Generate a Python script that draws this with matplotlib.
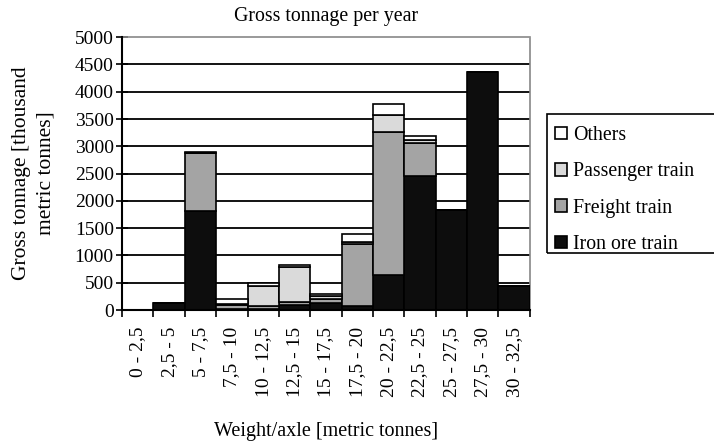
import matplotlib
matplotlib.use("Agg")
import matplotlib.pyplot as plt
from matplotlib.patches import Rectangle
import numpy as np

categories = ["0 - 2,5", "2,5 - 5", "5 - 7,5", "7,5 - 10", "10 - 12,5", "12,5 - 15",
              "15 - 17,5", "17,5 - 20", "20 - 22,5", "22,5 - 25", "25 - 27,5",
              "27,5 - 30", "30 - 32,5"]
iron_ore = [0, 130, 1820, 20, 20, 100, 130, 80, 650, 2460, 1830, 4370, 440]
freight = [0, 0, 1050, 80, 60, 40, 80, 1130, 2610, 600, 0, 0, 0]
passenger = [0, 0, 0, 10, 360, 640, 40, 40, 320, 60, 0, 0, 0]
others = [0, 0, 30, 100, 60, 50, 50, 150, 190, 60, 0, 0, 0]
yticks = [0, 500, 1000, 1500, 2000, 2500, 3000, 3500, 4000, 4500, 5000]

plt.rcParams['font.family'] = ['Liberation Serif', 'DejaVu Serif']
plt.rcParams['font.size'] = 14

fig = plt.figure(figsize=(7.14, 4.48), dpi=100)
ax = fig.add_axes([0.171, 0.308, 0.571, 0.609])

x = np.arange(len(categories))
series = [("Iron ore train", iron_ore, "#0d0d0d"),
          ("Freight train", freight, "#a4a4a4"),
          ("Passenger train", passenger, "#dadada"),
          ("Others", others, "#ffffff")]
bottom = np.zeros(len(categories))
handles = {}
for name, vals, col in series:
    v = np.array(vals, dtype=float)
    b = ax.bar(x, v, bottom=bottom, width=1.0, color=col, edgecolor="black",
               linewidth=1.2, label=name, zorder=3)
    handles[name] = b
    bottom += v

ax.set_xlim(-0.5, len(categories) - 0.5)
ax.set_ylim(0, 5000)
ax.set_yticks(yticks)
ax.set_yticklabels([str(t) for t in yticks], fontsize=14)
ax.tick_params(axis='y', direction='inout', length=8, width=1.2, pad=2)

ax.set_xticks(x)
ax.set_xticklabels(categories, rotation=90, fontsize=14)
ax.set_xticks(np.arange(-0.5, len(categories), 1.0), minor=True)
ax.tick_params(axis='x', which='major', length=0, pad=12)
ax.tick_params(axis='x', which='minor', direction='out', length=5, width=1.2)

for yv in yticks[1:-1]:
    ax.axhline(yv, color="black", linewidth=1.3, zorder=1)

for s in ['top', 'right']:
    ax.spines[s].set_color('#888888')
    ax.spines[s].set_linestyle((0, (1, 1)))
    ax.spines[s].set_linewidth(1.2)
ax.spines['left'].set_linewidth(1.5)
ax.spines['bottom'].set_linewidth(1.5)
ax.spines['left'].set_zorder(4)
ax.spines['bottom'].set_zorder(4)

ax.set_title("Gross tonnage per year", fontsize=14.3, pad=12)
ax.set_xlabel("Weight/axle [metric tonnes]", fontsize=14.5, labelpad=18)
ax.set_ylabel("Gross tonnage [thousand\nmetric tonnes]", fontsize=15.5, labelpad=14,
              linespacing=1.35)

order = ["Others", "Passenger train", "Freight train", "Iron ore train"]
leg = fig.legend([handles[n] for n in order], order, loc='upper left',
                 bbox_to_anchor=(0.765, 0.739), frameon=False,
                 handlelength=0.6, handleheight=0.6,
                 handletextpad=0.3, labelspacing=0.875, borderpad=0.45,
                 borderaxespad=0.0, fontsize=14.3)
fig.patches.append(Rectangle((0.7657, 0.4353), 0.3, 0.3102, transform=fig.transFigure,
                             fill=False, edgecolor='black', linewidth=1.2))

fig.savefig("out.png", dpi=100)
